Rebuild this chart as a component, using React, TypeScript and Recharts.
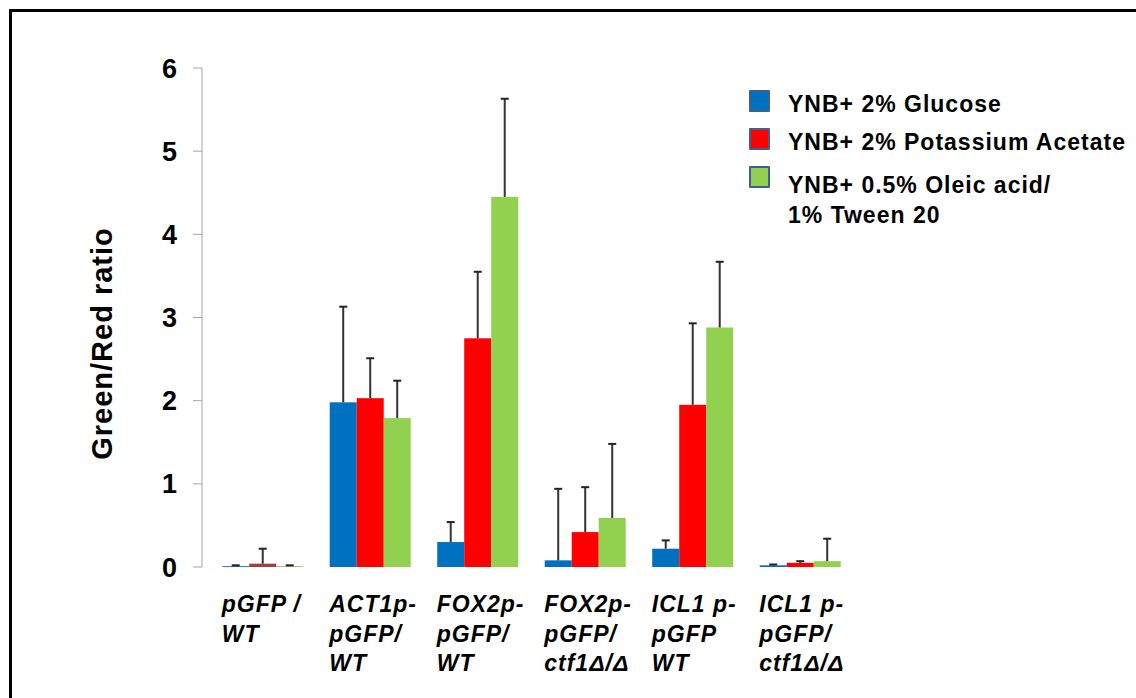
import React from 'react';
import { BarChart, Bar, XAxis, YAxis, Legend, Cell } from 'recharts';

const categories = [
  'pGFP /\nWT',
  'ACT1p-\npGFP/\nWT',
  'FOX2p-\npGFP/\nWT',
  'FOX2p-\npGFP/\nctf1Δ/Δ',
  'ICL1 p-\npGFP\nWT',
  'ICL1 p-\npGFP/\nctf1Δ/Δ',
];

const glucose = [0.01, 1.98, 0.3, 0.08, 0.22, 0.02];
const acetate = [0.04, 2.03, 2.75, 0.42, 1.95, 0.05];
const oleic = [0.01, 1.79, 4.45, 0.59, 2.88, 0.07];

const glucoseErr = [0.01, 1.15, 0.24, 0.86, 0.1, 0.01];
const acetateErr = [0.18, 0.48, 0.8, 0.54, 0.98, 0.02];
const oleicErr = [0.01, 0.45, 1.18, 0.89, 0.79, 0.27];

const yTicks = [0, 1, 2, 3, 4, 5, 6];

const seriesNames = [
  'YNB+ 2% Glucose',
  'YNB+ 2% Potassium Acetate',
  'YNB+ 0.5% Oleic acid/\n1% Tween 20',
];
const seriesColors = ['#0070C0', '#FF0000', '#92D050'];
const acetateCellColors = ['#A0403C', '#FF0000', '#FF0000', '#FF0000', '#FF0000', '#FF0000'];
const oleicCellColors = ['#9BBB59', '#92D050', '#92D050', '#92D050', '#92D050', '#92D050'];

const data = categories.map((c, i) => ({
  name: c,
  glucose: glucose[i],
  acetate: acetate[i],
  oleic: oleic[i],
  glucoseErr: glucoseErr[i],
  acetateErr: acetateErr[i],
  oleicErr: oleicErr[i],
}));

const FONT = '"Liberation Sans", Arial, sans-serif';

const makeShape = (valueKey: string, errKey: string) => (props: any) => {
  const { x, y, width, height, fill, payload } = props;
  const v = payload[valueKey];
  const ppu = v > 0 ? height / v : 0;
  const e = payload[errKey] * ppu;
  const cx = x + width / 2;
  const top = y - e;
  return (
    <g>
      <rect x={x} y={y} width={width} height={height} fill={fill} />
      <line x1={cx} y1={y} x2={cx} y2={top} stroke="#333" strokeWidth={2} />
      <line x1={cx - 4} y1={top} x2={cx + 4} y2={top} stroke="#222" strokeWidth={2} />
    </g>
  );
};

const XTick = (props: any) => {
  const { x, y, payload } = props;
  const lines = String(payload.value).split('\n');
  const x0 = x - 41;
  return (
    <text
      x={x0}
      y={y + 45}
      fontFamily={FONT}
      fontWeight="bold"
      fontStyle="italic"
      fontSize={23}
      letterSpacing={1}
      fill="#000"
    >
      {lines.map((l, i) => (
        <tspan key={i} x={x0} dy={i === 0 ? 0 : 29.5}>
          {l}
        </tspan>
      ))}
    </text>
  );
};

const YLabel = (props: any) => {
  const vb = props.viewBox || { x: 0, y: 68, width: 202, height: 499 };
  const lx = vb.x + 112;
  const ly = vb.y + vb.height / 2 + 26;
  return (
    <text
      x={lx}
      y={ly}
      transform={`rotate(-90, ${lx}, ${ly})`}
      textAnchor="middle"
      fontFamily={FONT}
      fontWeight="bold"
      fontSize={29}
      letterSpacing={1}
      fill="#000"
    >
      Green/Red ratio
    </text>
  );
};

const LegendContent = (props: any) => {
  const payload = [...(props.payload || [])].sort(
    (a: any, b: any) => seriesNames.indexOf(a.value) - seriesNames.indexOf(b.value)
  );
  return (
    <div style={{ fontFamily: FONT, fontWeight: 'bold', fontSize: 23, letterSpacing: 1, color: '#000' }}>
      {payload.map((p: any, i: number) => (
        <div key={i} style={{ position: 'relative', height: 38 }}>
          <div
            style={{
              position: 'absolute',
              left: 0,
              top: 0,
              width: 17,
              height: 18,
              background: p.color,
              border: '2px solid #3F6088',
              borderRadius: 1,
            }}
          />
          <div
            style={{
              position: 'absolute',
              left: 39,
              top: i === 2 ? 4 : -1,
              lineHeight: '30px',
              whiteSpace: 'pre',
            }}
          >
            {p.value}
          </div>
        </div>
      ))}
    </div>
  );
};

export default function App() {
  return (
    <div
      style={{
        position: 'fixed',
        left: 0,
        top: 0,
        width: 1136,
        height: 698,
        overflow: 'hidden',
        background: '#fff',
      }}
    >
      <div
        style={{
          position: 'absolute',
          left: 9,
          top: 9,
          width: 1300,
          height: 900,
          border: '3px solid #000',
        }}
      />
      <div style={{ position: 'absolute', left: 0, top: 0 }}>
        <BarChart
          width={1136}
          height={698}
          data={data}
          margin={{ top: 68, right: 282, bottom: 0, left: 0 }}
          barCategoryGap="12.3%"
          barGap={0}
        >
          <XAxis
            dataKey="name"
            axisLine={false}
            tickLine={false}
            tickSize={0}
            tickMargin={0}
            height={131}
            padding={{ left: 7, right: 0 }}
            interval={0}
            tick={<XTick />}
          />
          <YAxis
            width={202}
            domain={[0, 6]}
            ticks={yTicks}
            interval={0}
            allowDecimals={false}
            axisLine={{ stroke: '#A6A6A6', strokeWidth: 1 }}
            tickLine={{ stroke: '#A6A6A6', strokeWidth: 1 }}
            tickSize={9}
            tickMargin={16}
            tick={{ fontFamily: FONT, fontWeight: 'bold', fontSize: 27, fill: '#000' }}
            label={<YLabel />}
          />
          <Legend
            layout="vertical"
            align="center"
            verticalAlign="middle"
            wrapperStyle={{ left: 749, top: 90, width: 390, height: 160 }}
            content={<LegendContent />}
          />
          <Bar
            dataKey="glucose"
            name={seriesNames[0]}
            fill={seriesColors[0]}
            isAnimationActive={false}
            shape={makeShape('glucose', 'glucoseErr')}
          />
          <Bar
            dataKey="acetate"
            name={seriesNames[1]}
            fill={seriesColors[1]}
            isAnimationActive={false}
            shape={makeShape('acetate', 'acetateErr')}
          >
            {acetateCellColors.map((c, i) => (
              <Cell key={i} fill={c} />
            ))}
          </Bar>
          <Bar
            dataKey="oleic"
            name={seriesNames[2]}
            fill={seriesColors[2]}
            isAnimationActive={false}
            shape={makeShape('oleic', 'oleicErr')}
          >
            {oleicCellColors.map((c, i) => (
              <Cell key={i} fill={c} />
            ))}
          </Bar>
        </BarChart>
      </div>
    </div>
  );
}
